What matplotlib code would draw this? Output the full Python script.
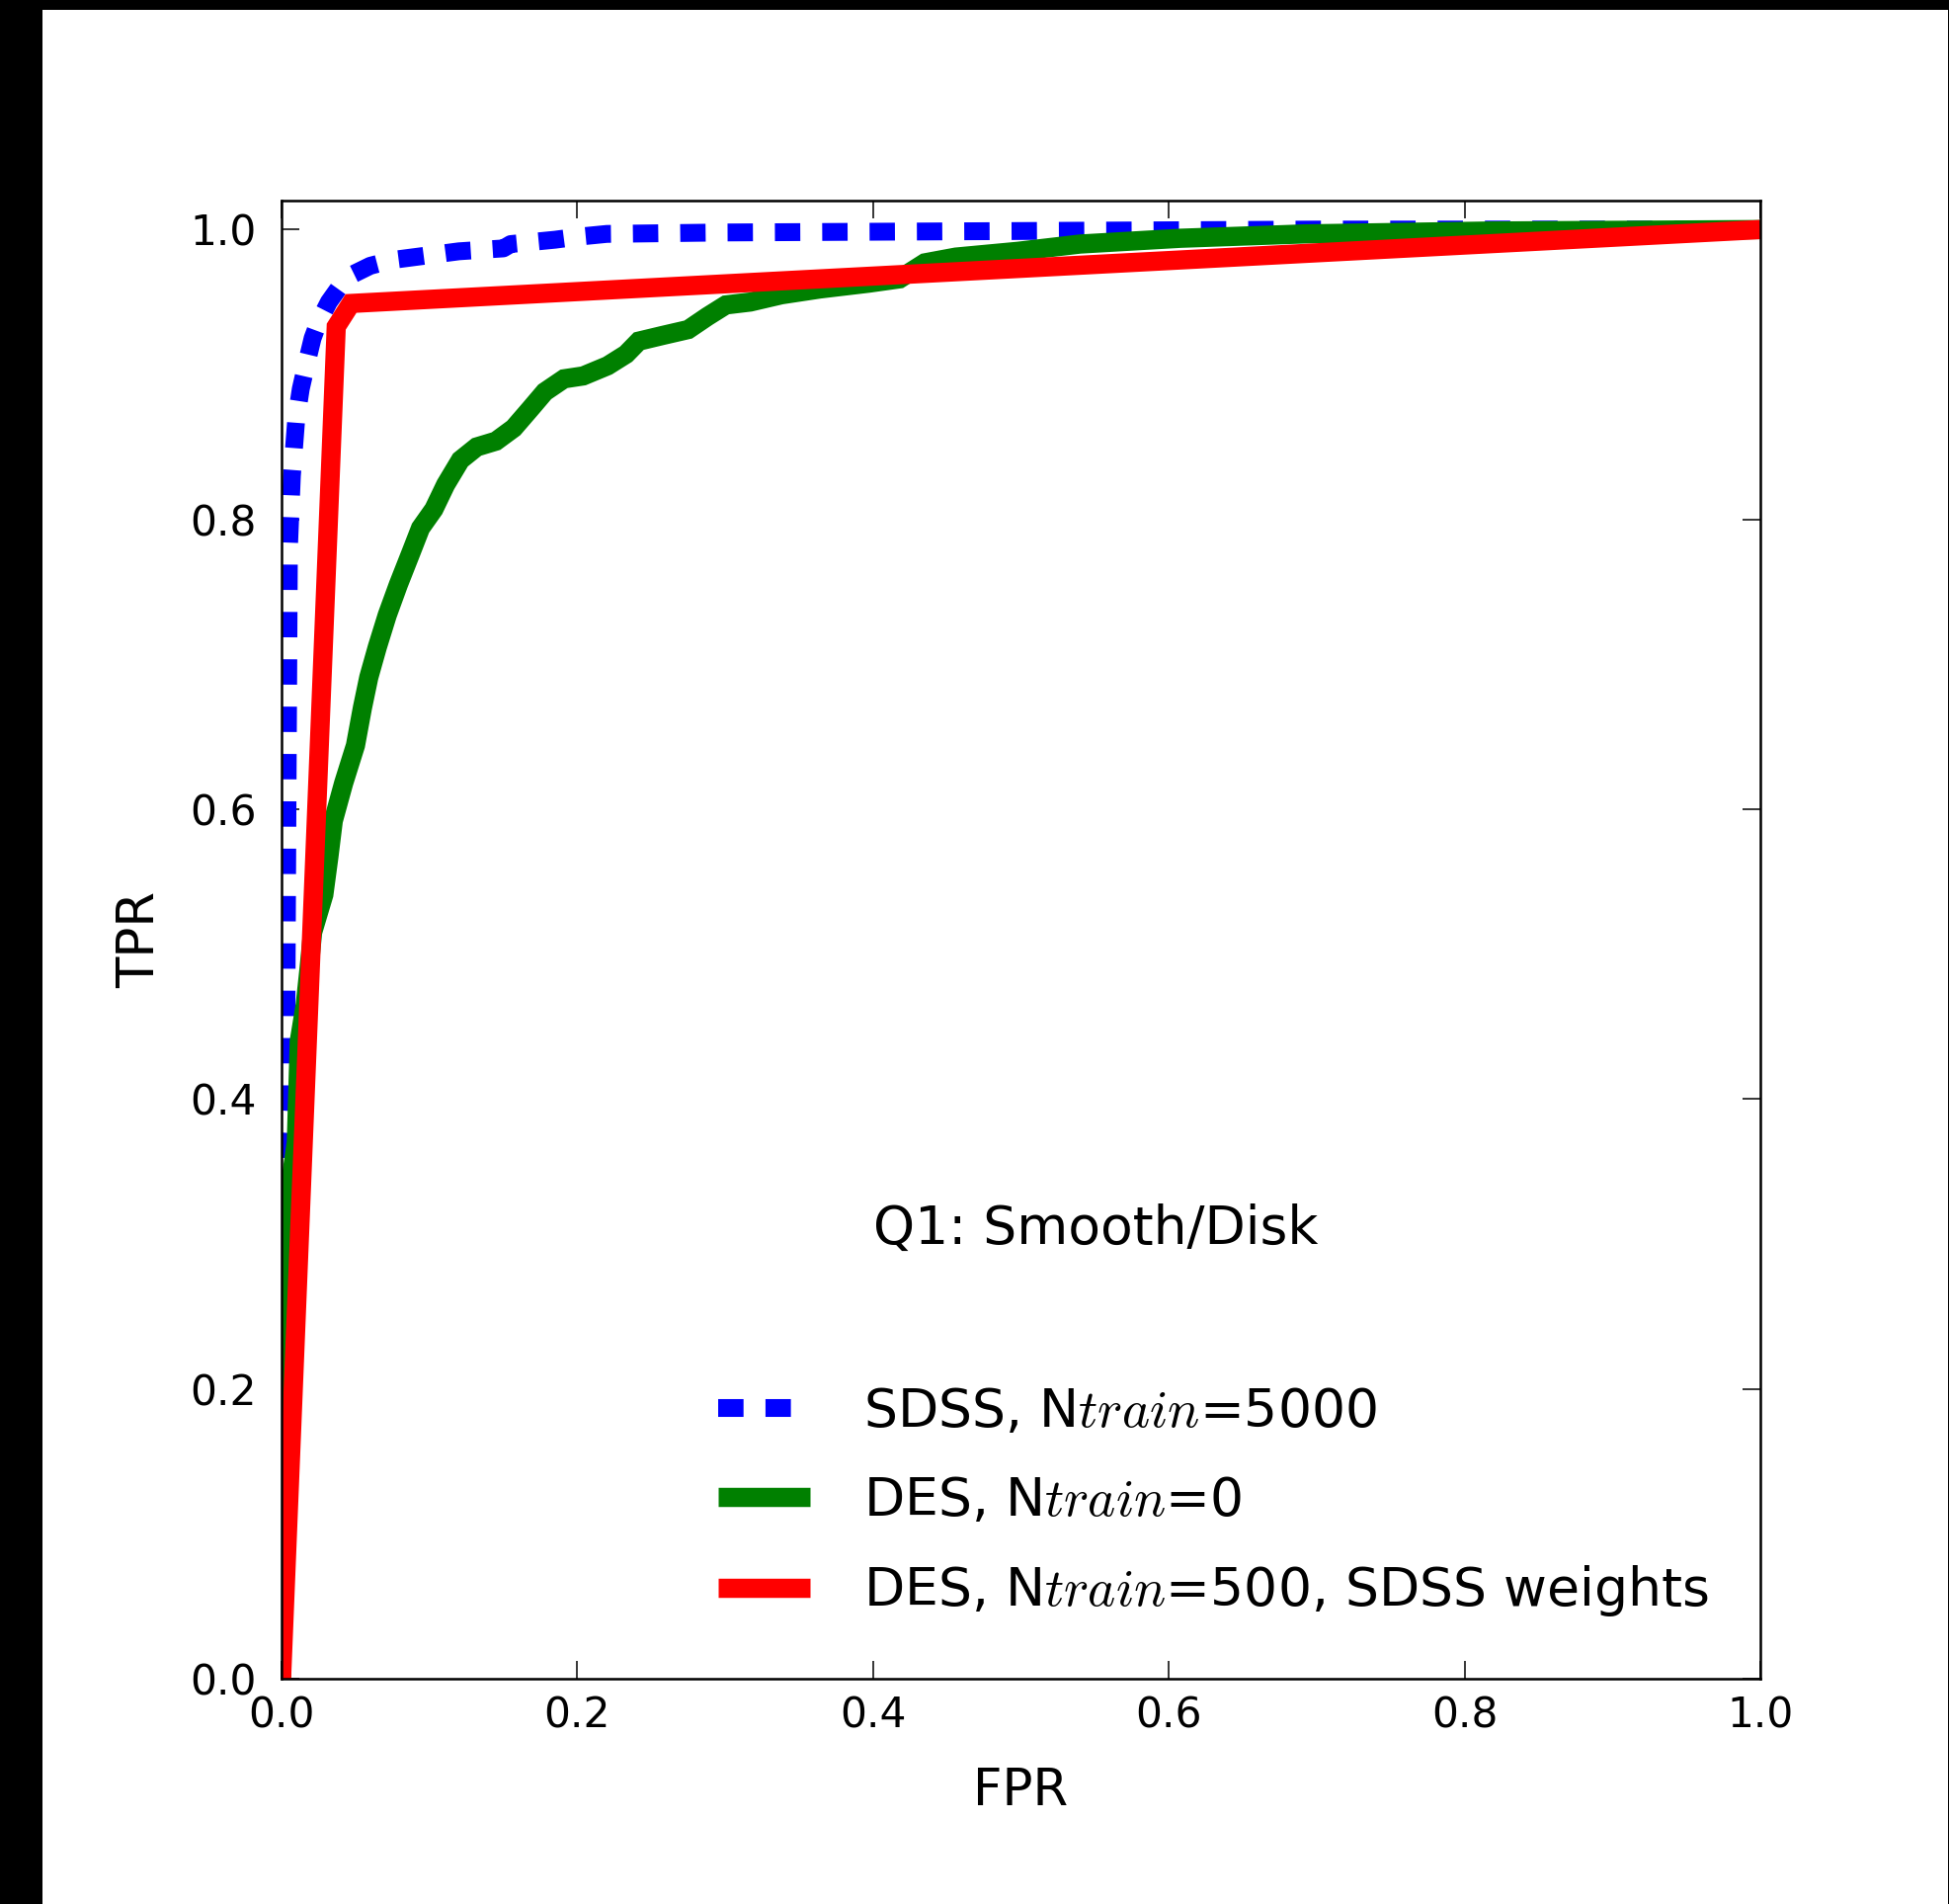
import matplotlib
matplotlib.use("Agg")
import matplotlib.pyplot as plt
from matplotlib.patches import Rectangle

# ROC curves (false positive rate, true positive rate)
fpr_sdss = [0.0, 0.0, 0.003, 0.004, 0.005, 0.007, 0.010, 0.013, 0.017, 0.021, 0.025,
            0.032, 0.039, 0.048, 0.060, 0.075, 0.090, 0.120, 0.150, 0.155, 0.185,
            0.200, 0.220, 0.300, 0.500, 0.700, 1.0]
tpr_sdss = [0.0, 0.36, 0.40, 0.60, 0.78, 0.83, 0.87, 0.89, 0.908, 0.925, 0.936,
            0.950, 0.960, 0.969, 0.975, 0.979, 0.981, 0.985, 0.987, 0.990, 0.993,
            0.995, 0.997, 0.998, 0.999, 1.0, 1.0]

fpr_des0 = [0.0, 0.0, 0.010, 0.012, 0.016, 0.0185, 0.021, 0.0286, 0.032, 0.035,
            0.042, 0.050, 0.0547, 0.059, 0.0648, 0.0715, 0.079, 0.0875, 0.094, 0.103,
            0.111, 0.121, 0.132, 0.145, 0.157, 0.168, 0.178, 0.191, 0.204, 0.2205,
            0.233, 0.2416, 0.258, 0.275, 0.288, 0.3005, 0.317, 0.338, 0.364, 0.397,
            0.418, 0.435, 0.456, 0.498, 0.540, 0.608, 0.692, 0.818, 1.0]
tpr_des0 = [0.0, 0.30, 0.37, 0.44, 0.465, 0.489, 0.515, 0.541, 0.567, 0.592,
            0.618, 0.644, 0.670, 0.691, 0.712, 0.734, 0.755, 0.777, 0.794, 0.807,
            0.824, 0.841, 0.850, 0.854, 0.863, 0.876, 0.888, 0.897, 0.899, 0.906,
            0.914, 0.923, 0.927, 0.931, 0.940, 0.948, 0.950, 0.955, 0.959, 0.963,
            0.966, 0.977, 0.981, 0.985, 0.990, 0.994, 0.997, 0.999, 1.0]

fpr_des500 = [0.0, 0.037, 0.047, 1.0]
tpr_des500 = [0.0, 0.933, 0.949, 1.0]

labels = ["SDSS, N$train$=5000", "DES, N$train$=0", "DES, N$train$=500, SDSS weights"]
xticks = [0.0, 0.2, 0.4, 0.6, 0.8, 1.0]
yticks = [0.0, 0.2, 0.4, 0.6, 0.8, 1.0]

plt.rcParams["font.family"] = ["DejaVu Sans"]
plt.rcParams["mathtext.fontset"] = "cm"
plt.rcParams["lines.scale_dashes"] = False

W, H = 1973, 1927
fig = plt.figure(figsize=(W / 100, H / 100), dpi=100, facecolor="white")

# dark frame strips along the left, top and right edges
fig.patches.append(Rectangle((0, 0), 43 / W, 1, transform=fig.transFigure,
                             facecolor="black", edgecolor="none", zorder=-1))
fig.patches.append(Rectangle((0, 1 - 10 / H), 1, 10 / H, transform=fig.transFigure,
                             facecolor="black", edgecolor="none", zorder=-1))
fig.patches.append(Rectangle((1 - 1.5 / W, 0), 1.5 / W, 1, transform=fig.transFigure,
                             facecolor="black", edgecolor="none", zorder=-1))

ax = fig.add_axes([285 / W, 1 - 1699 / H, (1782 - 285) / W, (1699 - 203) / H])

lw = 14
ax.plot(fpr_sdss, tpr_sdss, color="b", lw=13, linestyle=(0, (18.5, 16)),
        dash_capstyle="butt", label=labels[0])
ax.plot(fpr_des0, tpr_des0, color="g", lw=lw, solid_joinstyle="miter",
        solid_capstyle="butt", label=labels[1])
ax.plot(fpr_des500, tpr_des500, color="r", lw=lw, solid_joinstyle="miter",
        solid_capstyle="butt", label=labels[2])

ax.set_xlim(0, 1)
ax.set_ylim(0, 1.02)
ax.set_xticks(xticks)
ax.set_yticks(yticks)
ax.set_xticklabels([f"{t:.1f}" for t in xticks])
ax.set_yticklabels([f"{t:.1f}" for t in yticks])
ax.tick_params(axis="both", which="major", direction="in", length=13, width=1.1,
               top=True, right=True, labelsize=30.5, colors="black")
ax.tick_params(axis="x", pad=12)
ax.tick_params(axis="y", pad=18.5)
for sp in ax.spines.values():
    sp.set_linewidth(1.8)

ax.set_xlabel("FPR", fontsize=37)
ax.set_ylabel("TPR", fontsize=37)
ax.xaxis.set_label_coords(0.5, -0.0593)
ax.yaxis.set_label_coords(-0.0785, 0.5)

ax.text(0.4, 0.3, "Q1: Smooth/Disk", fontsize=38.5, va="baseline", ha="left")

leg = ax.legend(loc="upper left", bbox_to_anchor=(0.2953, 0.1977), frameon=False,
                fontsize=38.6, handlelength=1.74, handletextpad=1.0,
                labelspacing=0.70, borderpad=0, borderaxespad=0)

fig.savefig("out.png", dpi=100, facecolor="white")
